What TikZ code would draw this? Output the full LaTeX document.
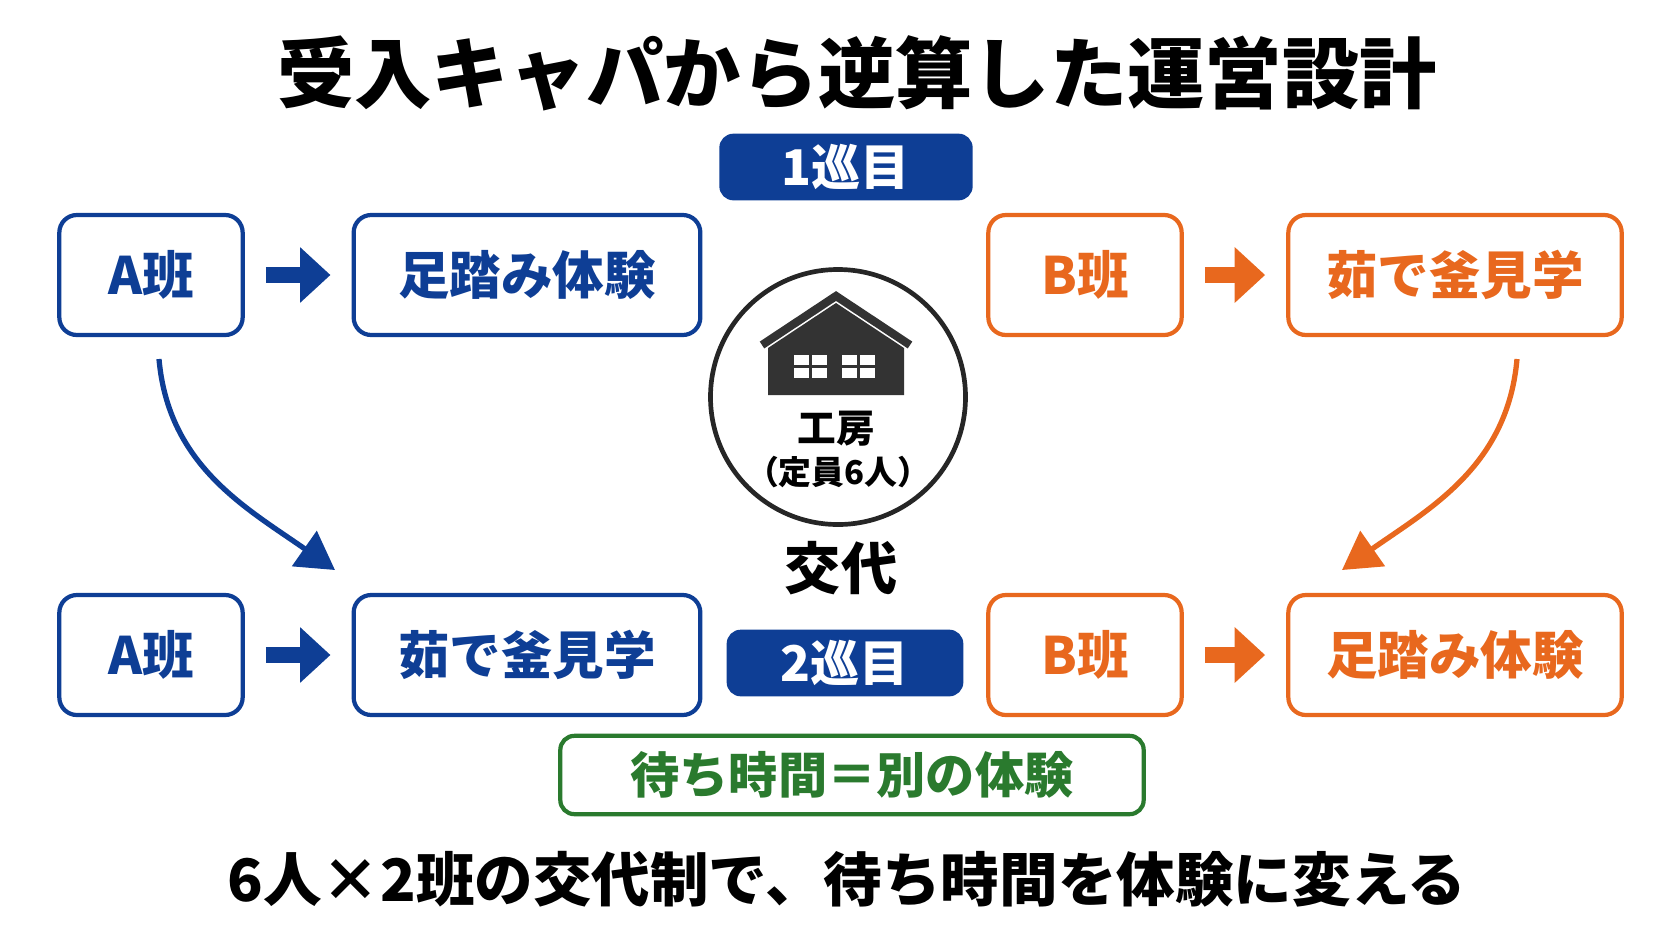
\documentclass[tikz,border=0pt]{standalone}
\usepackage{fontspec}
\setmainfont{Noto Sans CJK JP}[BoldFont={* Black}]
\usetikzlibrary{arrows.meta}
\definecolor{bblue}{HTML}{0E3E95}
\definecolor{borange}{HTML}{E8681E}
\definecolor{bgreen}{HTML}{2A7A2E}
\tikzset{
  box/.style={draw=#1,text=#1,line width=3.6pt,rounded corners=15pt,minimum height=3.6cm,font=\bfseries\fontsize{44}{44}\selectfont,inner sep=0pt},
  step/.style={-{Triangle[length=26pt,width=46pt]},line width=13pt,draw=#1,shorten <=18pt,shorten >=18pt},
  curv/.style={-{Triangle[length=32pt,width=36pt]},line width=4.5pt,draw=#1},
  tag/.style={fill=bblue,text=white,rounded corners=12pt,minimum width=7.6cm,minimum height=2cm,font=\bfseries\fontsize{42}{42}\selectfont}
}
\begin{document}
\begin{tikzpicture}[x=0.03cm,y=-0.03cm]
  \useasboundingbox (0,0) rectangle (1672,941);
  % 見出し
  \node[font=\bfseries\fontsize{66}{66}\selectfont] (title) at (857,73) {受入キャパから逆算した運営設計};
  \node[tag] (r1) at (846,167) {1巡目};
  \node[tag,minimum width=7.1cm] (r2) at (845,663) {2巡目};

  % 1巡目
  \node[box=bblue,minimum width=5.5cm] (a1) at (151,275) {A班};
  \node[box=bblue,minimum width=10.4cm] (a1x) at (527,275) {足踏み体験};
  \node[box=borange,minimum width=5.8cm] (b1) at (1085,275) {B班};
  \node[box=borange,minimum width=10cm] (b1x) at (1455,275) {茹で釜見学};

  % 2巡目
  \node[box=bblue,minimum width=5.5cm] (a2) at (151,655) {A班};
  \node[box=bblue,minimum width=10.4cm] (a2x) at (527,655) {茹で釜見学};
  \node[box=borange,minimum width=5.8cm] (b2) at (1085,655) {B班};
  \node[box=borange,minimum width=10cm] (b2x) at (1455,655) {足踏み体験};

  \draw[step=bblue] (a1) -- (a1x);
  \draw[step=borange] (b1) -- (b1x);
  \draw[step=bblue] (a2) -- (a2x);
  \draw[step=borange] (b2) -- (b2x);

  % 交代の矢印
  \coordinate (ca) at (159,359);
  \coordinate (cb) at (1517,359);
  \draw[curv=bblue] (ca) to[out=-85,in=145] (335,570);
  \draw[curv=borange] (cb) to[out=-95,in=35] (1342,570);

  % 工房
  \node[circle,draw=black!85,line width=4pt,minimum size=7.65cm] (shop) at (838,397) {};
  \fill[black!80] (768,348) -- (836,303) -- (904,348) -- (904,395) -- (768,395) -- cycle;
  \draw[black!80,line width=7pt,line join=miter] (762,345) -- (836,296) -- (910,345);
  \foreach \wx in {794,842}{
    \fill[white] (\wx,355) rectangle ++(15,10);
    \fill[white] (\wx+18,355) rectangle ++(15,10);
    \fill[white] (\wx,368) rectangle ++(15,10);
    \fill[white] (\wx+18,368) rectangle ++(15,10);
  }
  \node[font=\bfseries\fontsize{33}{33}\selectfont] (shopname) at (836,429) {工房};
  \node[font=\bfseries\fontsize{28}{28}\selectfont] (cap) at (838,472) {（定員6人）};
  \node[font=\bfseries\fontsize{48}{48}\selectfont] (swap) at (841,568) {交代};

  \node[draw=bgreen,text=bgreen,line width=3.6pt,rounded corners=12pt,minimum width=17.5cm,minimum height=2.35cm,font=\bfseries\fontsize{42}{42}\selectfont] (wait) at (852,775) {待ち時間＝別の体験};
  \node[font=\bfseries\fontsize{50}{50}\selectfont] (foot) at (847,879) {6人×2班の交代制で、待ち時間を体験に変える};
\end{tikzpicture}
\end{document}
